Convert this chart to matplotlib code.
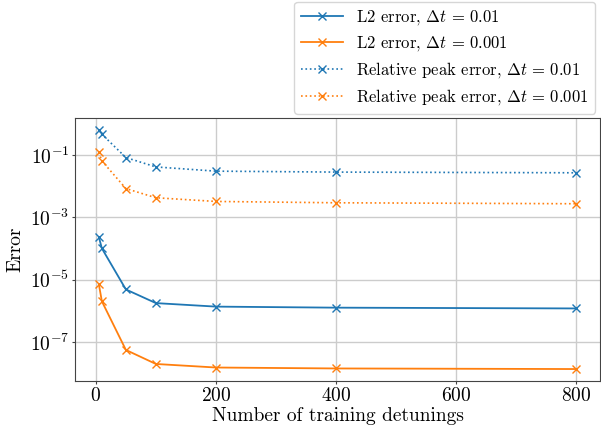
import matplotlib
matplotlib.use('Agg')
import matplotlib.pyplot as plt
import numpy as np

plt.rcParams['font.family'] = 'serif'
plt.rcParams['font.serif'] = ['cmr10']
plt.rcParams['mathtext.fontset'] = 'cm'
plt.rcParams['axes.formatter.use_mathtext'] = True

# number of training detunings
n_det = [5, 10, 50, 100, 200, 400, 800]

# L2 error
l2_dt01 = [2.3e-4, 1.0e-4, 4.8e-6, 1.75e-6, 1.35e-6, 1.25e-6, 1.18e-6]
l2_dt001 = [7.0e-6, 2.0e-6, 5.5e-8, 1.95e-8, 1.5e-8, 1.4e-8, 1.34e-8]
# relative peak error
peak_dt01 = [0.63, 0.46, 0.082, 0.041, 0.030, 0.028, 0.0266]
peak_dt001 = [0.12, 0.064, 0.0083, 0.0042, 0.0032, 0.0029, 0.0027]

fig = plt.figure(figsize=(6.01, 4.34), dpi=100)
ax = fig.add_axes([75/601, 1-381/434, 525/601, 263/434])

ax.plot(n_det, l2_dt01, '-x', color='C0', lw=1.3, ms=6, mew=1, label=r'L2 error, $\Delta t\,=\,0.01$')
ax.plot(n_det, l2_dt001, '-x', color='C1', lw=1.3, ms=6, mew=1, label=r'L2 error, $\Delta t\,=\,0.001$')
ax.plot(n_det, peak_dt01, ':x', color='C0', lw=1.2, ms=6, mew=1, label=r'Relative peak error, $\Delta t\,=\,0.01$')
ax.plot(n_det, peak_dt001, ':x', color='C1', lw=1.2, ms=6, mew=1, label=r'Relative peak error, $\Delta t\,=\,0.001$')

ax.set_yscale('log')
ax.set_yticks([1e-1, 1e-3, 1e-5, 1e-7])
ax.minorticks_off()
ax.set_xticks([0, 200, 400, 600, 800])
ax.tick_params(length=2, labelsize=14, pad=2, color='#444444')
ax.grid(True, color='#cccccc', lw=1)
ax.set_axisbelow(True)
for s in ax.spines.values():
    s.set_color('#444444')
ax.set_xlabel('Number of training detunings', fontsize=14, labelpad=2)
ax.set_ylabel('Error', fontsize=14, labelpad=4)

fig.legend(loc='upper right', bbox_to_anchor=(595/601, 1-1.7/434), borderaxespad=0,
           fontsize=12, labelspacing=0.42, handlelength=2.5, framealpha=0.8)

fig.savefig('out.png', dpi=100)
